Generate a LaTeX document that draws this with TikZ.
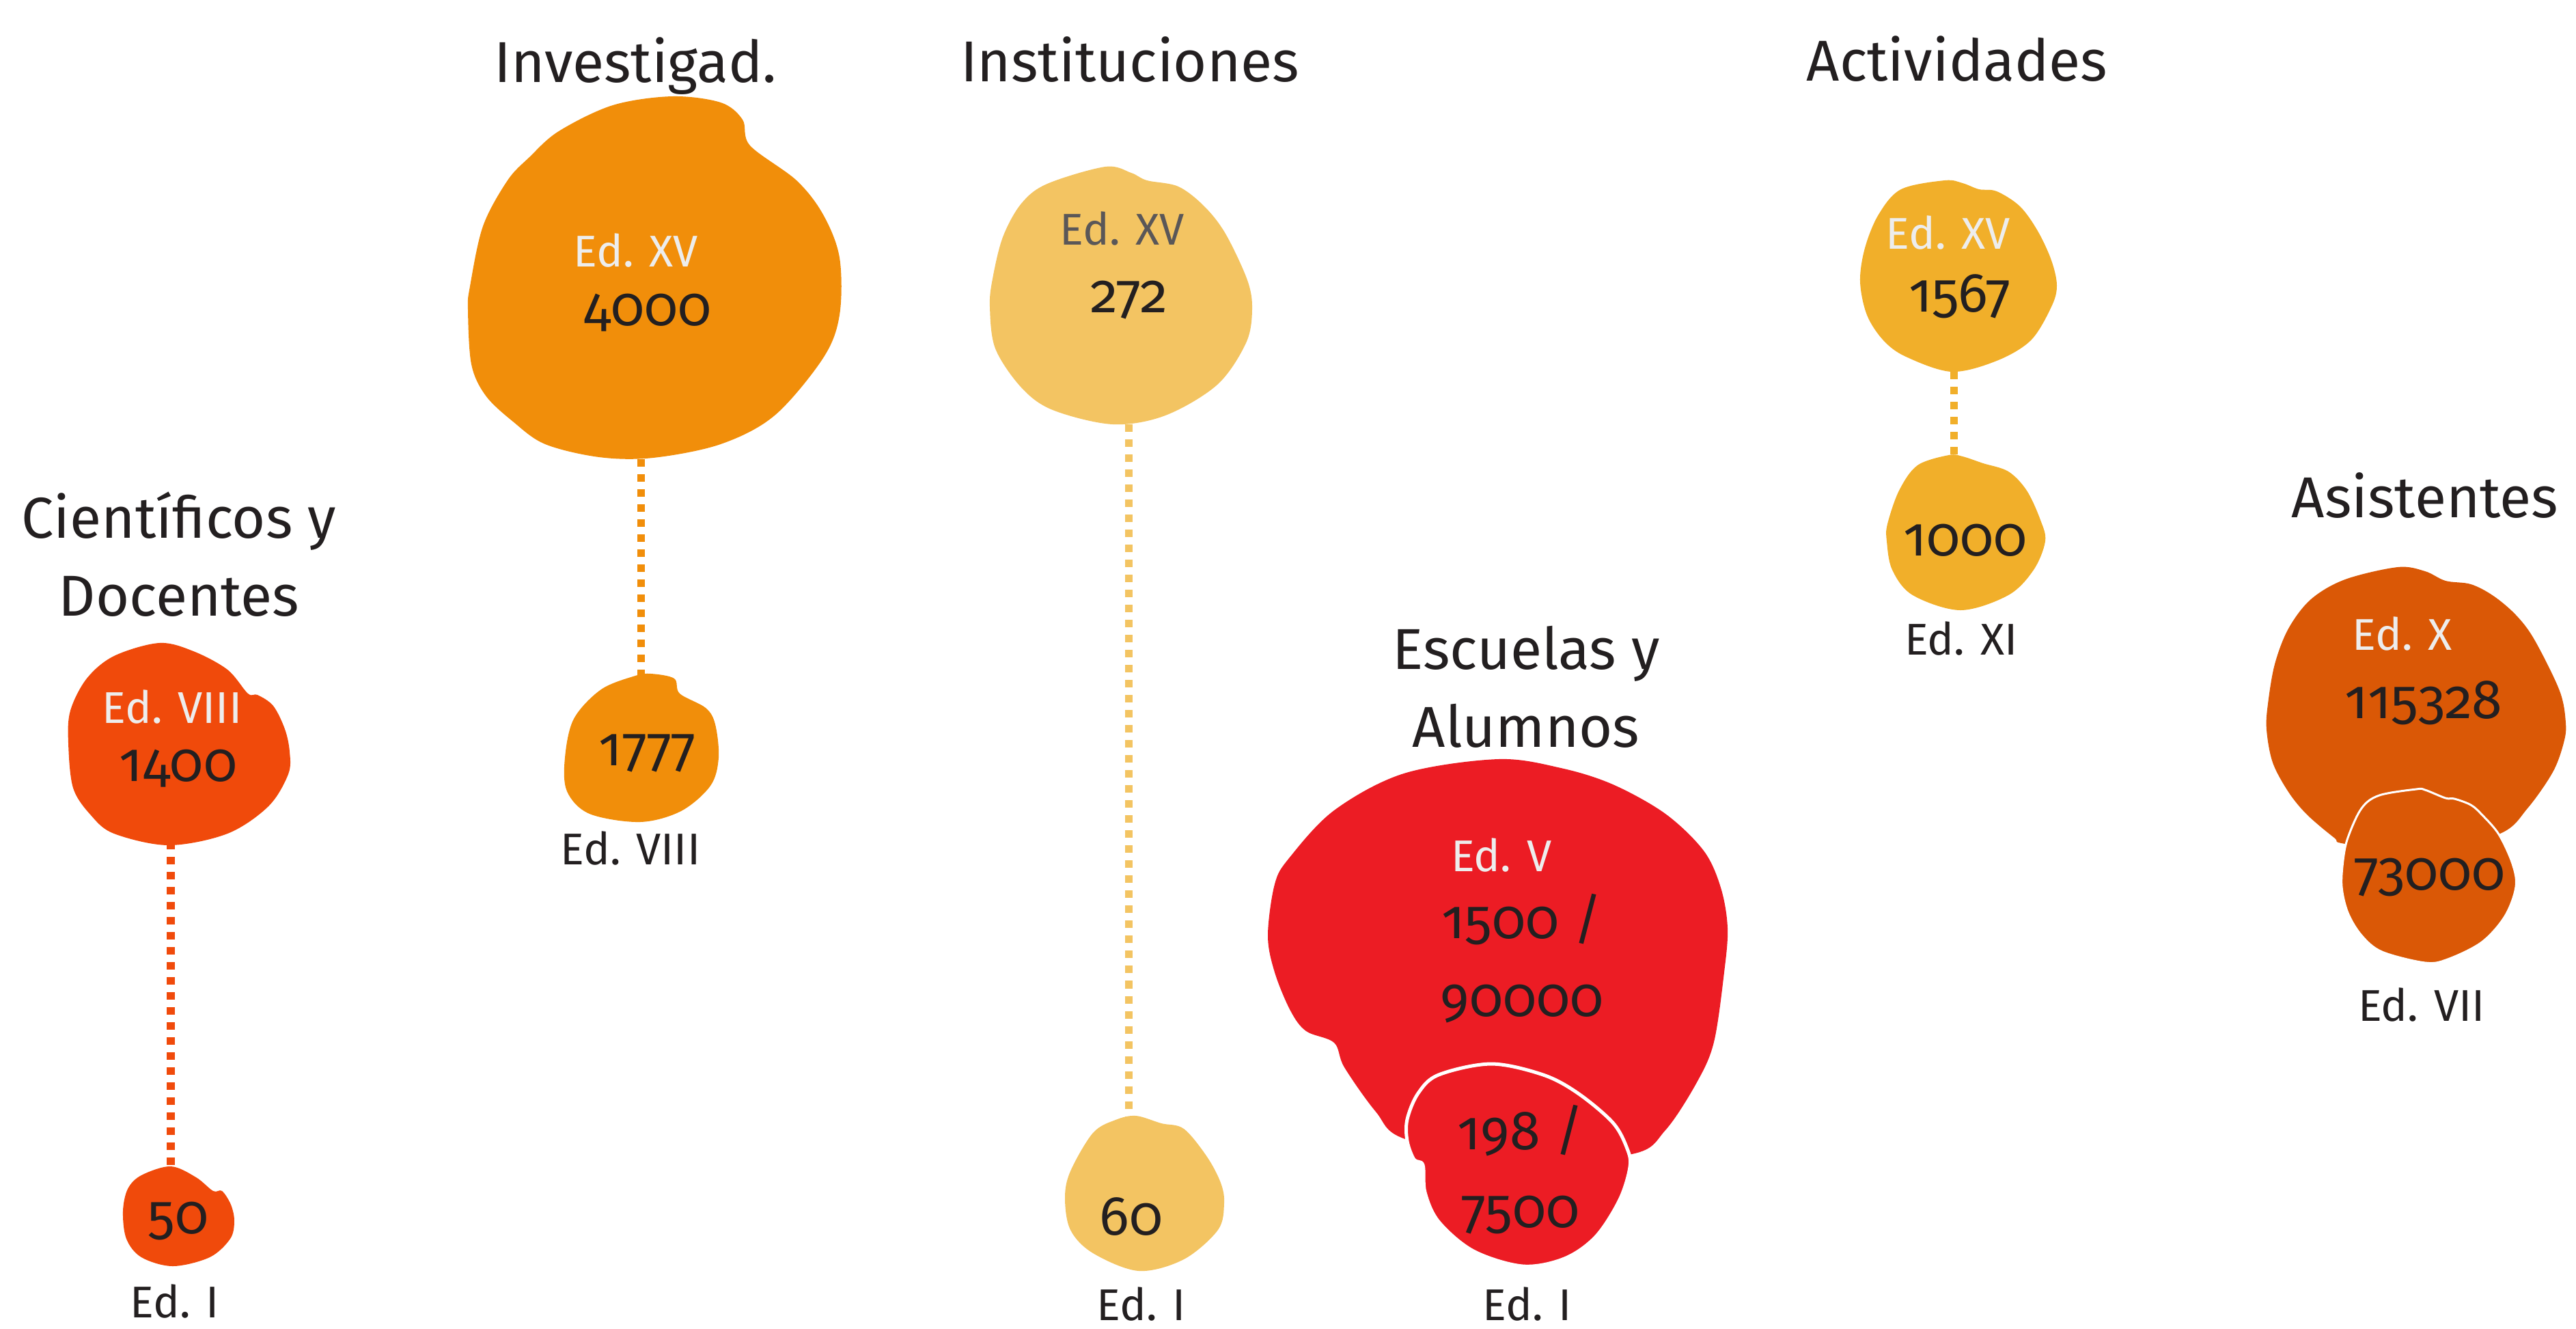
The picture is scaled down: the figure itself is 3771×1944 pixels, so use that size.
\documentclass[tikz,border=0pt]{standalone}
\usepackage{fontspec}
\setmainfont{Fira Sans}[Numbers=OldStyle]
\usetikzlibrary{positioning}

\definecolor{ink}{HTML}{231F20}
\definecolor{pale}{HTML}{EDEDED}
\definecolor{cienc}{HTML}{F04A0B}
\definecolor{invc}{HTML}{F18E0A}
\definecolor{instc}{HTML}{F3C462}
\definecolor{actc}{HTML}{F1AF2A}
\definecolor{escc}{HTML}{EC1C24}
\definecolor{asisc}{HTML}{DA5806}

\begin{document}
\begin{tikzpicture}[x=0.01cm, y=-0.01cm]

\tikzstyle{title}=[anchor=base, text=ink, align=center, font=\fontsize{24}{32.4}\selectfont]
\tikzstyle{edic}=[anchor=base, text=pale, font=\fontsize{18.5}{22}\selectfont]
\tikzstyle{edlab}=[anchor=base, text=ink, font=\fontsize{18.5}{22}\selectfont]
\tikzstyle{num}=[anchor=base, text=ink, align=center, font=\fontsize{23}{32.2}\selectfont]
\tikzstyle{blob}=[smooth cycle, tension=0.55]
\tikzstyle{connect}=[line width=0.11cm, dash pattern=on 0.11cm off 0.11cm]

\useasboundingbox (0,0) rectangle (3771,1944);

% dotted connectors
\coordinate (cienA) at (250,1232);
\coordinate (cienB) at (250,1712);
\coordinate (invA) at (938,672);
\coordinate (invB) at (938,990);
\coordinate (instA) at (1652,621);
\coordinate (instB) at (1652,1636);
\coordinate (actA) at (2860,544);
\coordinate (actB) at (2860,668);

\path (cienA) [connect, draw=cienc] edge (cienB);
\path (invA) [connect, draw=invc] edge (invB);
\path (instA) [connect, draw=instc] edge (instB);
\path (actA) [connect, draw=actc] edge (actB);

% Cientificos y Docentes
\fill[cienc] plot[blob] coordinates {(363,1015) (377,1017) (400,1033) (417,1067) (424,1100) (422,1133) (393,1180) (333,1220) (247,1237) (167,1220) (133,1193) (107,1153) (100,1087) (103,1040) (127,993) (167,960) (233,941) (283,953) (333,980)};
\fill[cienc] plot[blob] coordinates {(312,1743) (325,1743) (338,1763) (343,1787) (337,1813) (307,1840) (253,1853) (207,1840) (185,1813) (180,1773) (187,1740) (207,1720) (250,1707) (287,1723)};

\node[title] (cien) at (262,901) {Científicos y\\Docentes};
\node[edic] (cien8) at (252,1058) {Ed. VIII};
\node[num] (cien8n) at (261,1143) {1400};
\node[num] (cien1n) at (261,1805) {50};
\node[edlab] (cien1) at (256,1928) {Ed. I};

% Investigad.
\fill[invc] plot[blob] coordinates {(1098,213) (1166,264) (1205,314) (1229,377) (1229,461) (1205,524) (1134,608) (1055,650) (956,670) (877,669) (798,650) (751,617) (711,579) (690,533) (685,453) (688,419) (707,331) (743,264) (775,230) (818,192) (897,154) (984,141) (1055,150) (1087,175)};
\fill[invc] plot[blob] coordinates {(995,1015) (1033,1036) (1047,1060) (1052,1109) (1040,1150) (997,1187) (937,1203) (863,1191) (830,1158) (827,1109) (840,1052) (880,1009) (930,989) (953,986) (987,993)};

\node[title] (inv) at (930,120) {Investigad.};
\node[edic] (inv15) at (931,390) {Ed. XV};
\node[num] (inv15n) at (948,476) {4000};
\node[num] (inv8n) at (948,1120) {1777};
\node[edlab] (inv8) at (923,1265) {Ed. VIII};

% Instituciones
\fill[instc] plot[blob] coordinates {(1679,264) (1725,273) (1763,302) (1794,342) (1826,410) (1833,453) (1824,502) (1782,563) (1706,608) (1629,621) (1541,600) (1495,567) (1457,510) (1449,449) (1453,408) (1468,347) (1495,298) (1533,269) (1618,244) (1656,253)};
\fill[instc] plot[blob] coordinates {(1700,1644) (1733,1652) (1767,1693) (1787,1731) (1792,1761) (1783,1800) (1733,1843) (1667,1860) (1600,1834) (1567,1800) (1559,1753) (1567,1714) (1600,1658) (1633,1639) (1663,1633)};

\node[title] (inst) at (1654,119) {Instituciones};
\node[edic, text=ink!75] (inst15) at (1643,358) {Ed. XV};
\node[num] (inst15n) at (1653,457) {272};
\node[num] (inst1n) at (1656,1807) {60};
\node[edlab] (inst1) at (1671,1932) {Ed. I};

% Actividades
\fill[actc] plot[blob] coordinates {(2897,277) (2923,280) (2957,302) (2983,338) (3003,381) (3011,418) (3003,449) (2973,498) (2923,528) (2857,544) (2790,522) (2757,498) (2733,461) (2723,412) (2730,363) (2750,314) (2783,277) (2847,264) (2873,268)};
\fill[actc] plot[blob] coordinates {(2903,678) (2940,690) (2967,718) (2987,761) (2994,792) (2977,834) (2940,871) (2870,893) (2800,871) (2770,834) (2762,792) (2763,767) (2780,718) (2807,681) (2853,666) (2873,668)};

\node[title] (act) at (2865,118) {Actividades};
\node[edic] (act15) at (2852,364) {Ed. XV};
\node[num] (act15n) at (2869,456) {1567};
\node[num] (act11n) at (2877,813) {1000};
\node[edlab] (act11) at (2871,958) {Ed. XI};

% Escuelas y Alumnos
\fill[escc] plot[blob] coordinates {(2193,1111) (2285,1124) (2361,1148) (2438,1191) (2494,1245) (2519,1299) (2529,1358) (2524,1423) (2509,1525) (2484,1584) (2438,1654) (2389,1689) (2220,1700) (2057,1667) (2014,1627) (1968,1562) (1953,1526) (1912,1509) (1889,1479) (1866,1423) (1856,1369) (1866,1294) (1887,1256) (1953,1186) (2055,1132)};
\filldraw[escc, draw=white, line width=0.05cm] plot[blob] coordinates {(2183,1557) (2259,1573) (2310,1600) (2361,1643) (2382,1681) (2386,1708) (2371,1756) (2336,1810) (2290,1842) (2229,1853) (2157,1831) (2106,1788) (2086,1745) (2083,1705) (2070,1697) (2060,1670) (2060,1638) (2076,1600) (2106,1573)};

\node[title] (esc) at (2234,1093) {Escuelas y\\Alumnos};
\node[edic] (esc5) at (2198,1275) {Ed. V};
\node[num] (esc5n) at (2228,1487) {1500 /\\90000};
\node[num] (esc1n) at (2226,1796) {198 /\\7500};
\node[edlab] (esc1) at (2236,1932) {Ed. I};

% Asistentes
\fill[asisc] plot[blob] coordinates {(3580,850) (3617,855) (3650,872) (3683,900) (3710,936) (3747,1011) (3756,1058) (3753,1087) (3737,1130) (3700,1183) (3660,1220) (3550,1250) (3433,1235) (3417,1226) (3377,1192) (3350,1159) (3327,1116) (3318,1068) (3320,1030) (3330,972) (3350,920) (3383,877) (3433,848) (3510,830) (3550,836)};
\filldraw[asisc, draw=white, line width=0.03cm] plot[blob] coordinates {(3580,1168) (3593,1169) (3617,1178) (3633,1192) (3658,1221) (3678,1264) (3683,1298) (3667,1341) (3633,1379) (3583,1404) (3550,1409) (3487,1393) (3457,1369) (3437,1336) (3428,1298) (3430,1259) (3437,1226) (3457,1183) (3483,1164) (3537,1155) (3550,1156)};

\node[title] (asis) at (3550,757) {Asistentes};
\node[edic] (asis10) at (3517,951) {Ed. X};
\node[num] (asis10n) at (3548,1051) {115328};
\node[num] (asis7n) at (3557,1302) {73000};
\node[edlab] (asis7) at (3545,1494) {Ed. VII};

\end{tikzpicture}
\end{document}
